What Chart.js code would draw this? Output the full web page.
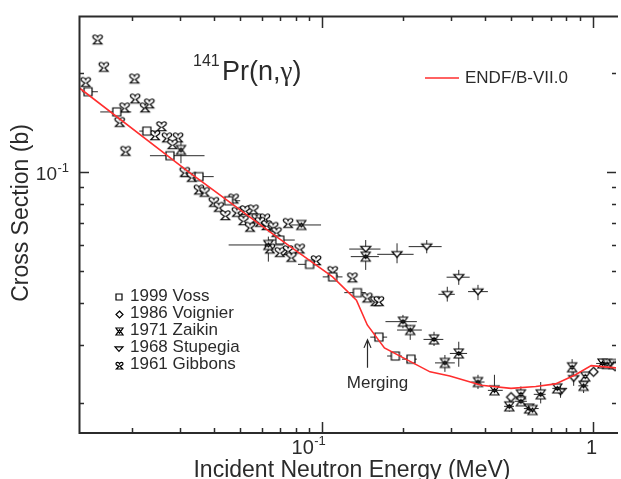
<!DOCTYPE html>
<html>
<head>
<meta charset="utf-8">
<title>141Pr(n,g) capture cross section</title>
<script src="https://cdn.jsdelivr.net/npm/chart.js@4.4.1/dist/chart.umd.min.js"></script>
<style>
  body { margin: 0; background: #ffffff; }
  canvas { display: block; }
</style>
</head>
<body>
<canvas id="xsChart" width="621" height="479"></canvas>
<script>
//axis ranges: energy in MeV, cross section in barn
var energyRange = [0.01269, 1.221];
var sigmaRange = [0.01619, 0.2968];
var xMajorTicks = [0.1, 1];
var xMinorTicks = [0.02, 0.03, 0.04, 0.05, 0.06, 0.07, 0.08, 0.09, 0.2, 0.3, 0.4, 0.5, 0.6, 0.7, 0.8, 0.9];
var yMajorTicks = [0.1];
var yMinorTicks = [0.02, 0.03, 0.04, 0.05, 0.06, 0.07, 0.08, 0.09, 0.2];

//ENDF/B-VII.0 evaluation
var endfEnergy = [0.0127, 0.0315, 0.0690, 0.0817, 0.1097, 0.1343, 0.1473, 0.1704, 0.2511, 0.2972, 0.3882, 0.500, 0.617, 0.730, 0.865, 0.989, 1.221];
var endfSigma = [0.180, 0.1014, 0.0631, 0.0572, 0.0481, 0.0409, 0.0344, 0.0293, 0.0248, 0.0241, 0.0226, 0.0221, 0.0224, 0.0228, 0.0243, 0.0259, 0.0255];

//1999 Voss
var vossEnergy = [0.0137, 0.0175, 0.0226, 0.0275, 0.0352, 0.0453, 0.0700, 0.0902, 0.1097, 0.1354, 0.1626, 0.187, 0.2135];
var vossSigma = [0.175, 0.152, 0.133, 0.112, 0.0968, 0.0818, 0.0622, 0.0525, 0.0481, 0.0431, 0.0316, 0.0277, 0.0271];
var vossELow = [0.0130, 0.0152, 0.0212, 0.0232, 0.0302, 0.0434, 0.0635, 0.0817, 0.1008, 0.1211, 0.1511, 0.1744, 0.1979];
var vossEHigh = [0.0149, 0.0198, 0.0251, 0.0369, 0.0399, 0.0500, 0.0795, 0.0951, 0.1193, 0.1453, 0.1744, 0.1979, 0.2245];

//1986 Voignier
var voignierEnergy = [0.500, 1.0085, 1.211];
var voignierSigma = [0.0208, 0.0248, 0.0258];

//1971 Zaikin
var zaikinEnergy = [0.0302, 0.0840, 0.0635, 0.1453, 0.1995, 0.2122, 0.2598, 0.2850, 0.3206, 0.3776, 0.4343, 0.4928, 0.5438, 0.5438, 0.5833, 0.6004, 0.6436, 0.7409, 0.8407, 0.927, 0.940, 1.088, 1.132, 1.194];
var zaikinSigma = [0.1166, 0.0691, 0.0601, 0.0554, 0.0352, 0.0332, 0.0311, 0.0264, 0.0282, 0.0231, 0.0218, 0.0195, 0.0212, 0.0202, 0.0192, 0.0190, 0.0212, 0.0221, 0.0256, 0.0225, 0.0240, 0.0263, 0.0262, 0.0262];
var zaikinELow = [null, 0.0772, 0.0453, 0.1280, 0.1719, 0.1897, 0.2376, 0.2620, 0.2972, 0.3567, 0.4108, 0.4713, null, 0.5169, 0.5578, null, 0.6067, 0.7104, null, 0.8866, null, 1.0315, null, null];
var zaikinEHigh = [null, 0.0994, 0.0720, 0.1626, 0.2245, 0.2342, 0.2812, 0.3101, 0.3441, 0.3992, 0.4661, 0.5126, null, 0.5722, 0.6326, null, 0.6714, 0.806, null, 0.9645, null, 1.151, null, null];
var zaikinSLow = [0.1063, null, 0.0535, 0.0505, 0.0336, 0.0310, 0.0297, 0.0248, 0.0257, 0.0220, 0.0211, 0.0188, 0.0197, null, null, null, 0.0199, null, 0.0240, 0.0214, null, null, null, null];
var zaikinSHigh = [0.1235, null, 0.0637, 0.0567, 0.0369, 0.0344, 0.0328, 0.0279, 0.0306, 0.0243, 0.0243, 0.0204, 0.0224, null, null, null, 0.0231, null, 0.0271, 0.0234, null, null, null, null];

//1968 Stupegia
var stupegiaEnergy = [0.1453, 0.1897, 0.2442, 0.3206, 0.2908, 0.3776, 0.7619, 0.852];
var stupegiaSigma = [0.0584, 0.0563, 0.0594, 0.0480, 0.0426, 0.0434, 0.0216, 0.0237];
var stupegiaELow = [0.1263, 0.1603, 0.2094, 0.2891, 0.2696, 0.3470, null, null];
var stupegiaEHigh = [0.1648, 0.2184, 0.2772, 0.3518, 0.3101, 0.4108, null, null];
var stupegiaSLow = [0.0549, 0.0529, 0.0567, 0.0455, 0.0405, 0.0409, 0.0207, 0.0225];
var stupegiaSHigh = [0.0622, 0.0608, 0.0622, 0.0505, 0.0449, 0.0455, 0.0226, 0.0251];

//1961 Gibbons
var gibbonsEnergy = [0.01486, 0.01567, 0.01343, 0.02034, 0.02046, 0.0187, 0.02227, 0.02308, 0.01793, 0.01886, 0.0256, 0.02422, 0.0268, 0.02947, 0.02809, 0.03119, 0.03309, 0.03518, 0.0369, 0.03992, 0.04164, 0.04406, 0.04725, 0.04857, 0.05215, 0.05591, 0.0514, 0.05438, 0.05749, 0.0617, 0.05916, 0.06255, 0.06618, 0.06805, 0.07509, 0.06436, 0.0700, 0.07509, 0.07721, 0.08286, 0.0953, 0.1097, 0.1298, 0.1473, 0.158, 0.1626];
var gibbonsSigma = [0.2524, 0.2085, 0.1877, 0.1922, 0.1672, 0.1571, 0.1571, 0.1615, 0.142, 0.116, 0.1378, 0.1294, 0.1274, 0.1274, 0.1216, 0.1002, 0.0968, 0.0886, 0.0872, 0.0813, 0.0785, 0.0741, 0.0832, 0.0758, 0.0767, 0.0771, 0.0715, 0.0683, 0.0724, 0.0724, 0.0707, 0.0691, 0.0683, 0.0659, 0.0702, 0.0587, 0.0573, 0.058, 0.0554, 0.0587, 0.0541, 0.0502, 0.048, 0.0417, 0.0407, 0.0407];

//where the arrow points to
var mergeEnergy = 0.1473;
var mergeSigma = 0.0310;

var SANS = '"Liberation Sans", Arial, sans-serif';
var SERIF = '"Liberation Serif", "Times New Roman", serif';
var INK = '#2b2b2b';

//turn two lists into chart points
function toPoints(energy, sigma){
    return energy.map(function(e, i){
        return {x: e, y: sigma[i]};
    });
}

//draw an open marker on a small canvas so it can be used as pointStyle
function makeMarker(shape, size){
    var pad = 3;
    var c = document.createElement('canvas');
    c.width = c.height = Math.ceil(size) + 2 * pad;
    var g = c.getContext('2d');
    var h = size / 2;
    g.translate(c.width / 2, c.height / 2);
    g.lineWidth = 1.2;
    g.strokeStyle = '#000000';
    g.fillStyle = '#ffffff';
    g.beginPath();
    if(shape === 'square'){
        g.rect(-h, -h, size, size);
    }
    else if(shape === 'diamond'){
        g.moveTo(0, -h); g.lineTo(h, 0); g.lineTo(0, h); g.lineTo(-h, 0); g.closePath();
    }
    else if(shape === 'triangleDown'){
        g.moveTo(-h, -0.55 * h); g.lineTo(h, -0.55 * h); g.lineTo(0, 0.6 * h); g.closePath();
    }
    else if(shape === 'hourglass'){
        g.moveTo(-h, -h); g.lineTo(h, -h); g.lineTo(0, 0.45 * h); g.closePath();
        g.moveTo(-h, h); g.lineTo(h, h); g.lineTo(0, -0.45 * h); g.closePath();
    }
    else if(shape === 'heart'){
        g.moveTo(0, -0.45 * h);
        g.bezierCurveTo(0.2 * h, -1.05 * h, h, -1.05 * h, h, -0.45 * h);
        g.bezierCurveTo(h, -0.1 * h, 0.35 * h, 0.05 * h, 0.2 * h, 0.25 * h);
        g.lineTo(0.9 * h, h);
        g.lineTo(-0.9 * h, h);
        g.lineTo(-0.2 * h, 0.25 * h);
        g.bezierCurveTo(-0.35 * h, 0.05 * h, -h, -0.1 * h, -h, -0.45 * h);
        g.bezierCurveTo(-h, -1.05 * h, -0.2 * h, -1.05 * h, 0, -0.45 * h);
        g.closePath();
    }
    g.fill();
    g.stroke();
    return c;
}

var markers = {
    voss: makeMarker('square', 8),
    voignier: makeMarker('diamond', 9),
    zaikin: makeMarker('hourglass', 9),
    stupegia: makeMarker('triangleDown', 10),
    gibbons: makeMarker('heart', 9.5)
};
var legendMarkers = {
    voss: makeMarker('square', 6),
    voignier: makeMarker('diamond', 7),
    zaikin: makeMarker('hourglass', 7),
    stupegia: makeMarker('triangleDown', 8),
    gibbons: makeMarker('heart', 7)
};

function measurement(label, energy, sigma, marker, errors){
    return {
        label: label,
        data: toPoints(energy, sigma),
        pointStyle: marker,
        pointRadius: 4,
        showLine: false,
        errors: errors
    };
}

//horizontal and vertical error bars, drawn under the markers
var errorBars = {
    id: 'errorBars',
    beforeDatasetsDraw: function(chart){
        var ctx = chart.ctx;
        var xs = chart.scales.x, ys = chart.scales.y;
        var area = chart.chartArea;
        ctx.save();
        ctx.beginPath();
        ctx.rect(area.left, area.top, area.right - area.left, area.bottom - area.top);
        ctx.clip();
        ctx.strokeStyle = '#2a2a2a';
        ctx.lineWidth = 1;
        chart.data.datasets.forEach(function(ds){
            var e = ds.errors;
            if(!e) return;
            ds.data.forEach(function(p, i){
                var px = xs.getPixelForValue(p.x);
                var py = ys.getPixelForValue(p.y);
                ctx.beginPath();
                if(e.eLow && e.eLow[i] != null){
                    ctx.moveTo(xs.getPixelForValue(e.eLow[i]), py);
                    ctx.lineTo(xs.getPixelForValue(e.eHigh[i]), py);
                }
                if(e.sLow && e.sLow[i] != null){
                    ctx.moveTo(px, ys.getPixelForValue(e.sLow[i]));
                    ctx.lineTo(px, ys.getPixelForValue(e.sHigh[i]));
                }
                ctx.stroke();
            });
        });
        ctx.restore();
    }
};

//base with a superscript exponent, e.g. 10^-1
function drawPower(ctx, left, baseline, base, exp, baseSize, expSize, rise){
    ctx.font = baseSize + 'px ' + SANS;
    ctx.textAlign = 'left';
    ctx.textBaseline = 'alphabetic';
    ctx.fillText(base, left, baseline);
    var w = ctx.measureText(base).width;
    ctx.font = expSize + 'px ' + SANS;
    ctx.fillText(exp, left + w + 0.5, baseline - rise);
    return w + ctx.measureText(exp).width + 0.5;
}

//frame with inward ticks, tick labels, titles, legends and the merging arrow
var decorations = {
    id: 'decorations',
    afterDraw: function(chart){
        var ctx = chart.ctx;
        var xs = chart.scales.x, ys = chart.scales.y;
        var a = chart.chartArea;
        ctx.save();
        ctx.strokeStyle = INK;
        ctx.fillStyle = INK;

        //frame (right side falls outside the canvas)
        ctx.lineWidth = 2;
        ctx.beginPath();
        ctx.moveTo(a.right + 2, a.top + 0.5);
        ctx.lineTo(a.left + 0.5, a.top + 0.5);
        ctx.lineTo(a.left + 0.5, a.bottom);
        ctx.lineTo(a.right + 2, a.bottom);
        ctx.stroke();

        //ticks
        ctx.lineWidth = 1.5;
        ctx.beginPath();
        xMajorTicks.concat(xMinorTicks).forEach(function(v){
            var major = xMajorTicks.indexOf(v) >= 0;
            var px = Math.round(xs.getPixelForValue(v)) + 0.5;
            ctx.moveTo(px, a.bottom); ctx.lineTo(px, a.bottom - (major ? 11 : 5));
            ctx.moveTo(px, a.top); ctx.lineTo(px, a.top + (major ? 12 : 5));
        });
        yMajorTicks.concat(yMinorTicks).forEach(function(v){
            var major = yMajorTicks.indexOf(v) >= 0;
            var py = Math.round(ys.getPixelForValue(v)) + 0.5;
            ctx.moveTo(a.left, py); ctx.lineTo(a.left + (major ? 10 : 5), py);
            ctx.moveTo(a.right, py); ctx.lineTo(a.right - (major ? 9 : 4), py);
        });
        ctx.stroke();

        //tick labels
        var x01 = xs.getPixelForValue(0.1);
        ctx.font = '20px ' + SANS;
        drawPower(ctx, x01 - 8 - ctx.measureText('10').width, a.bottom + 21, '10', '-1', 20, 13, 9);
        ctx.font = '20px ' + SANS;
        ctx.textAlign = 'center';
        ctx.fillText('1', xs.getPixelForValue(1) - 1, a.bottom + 21);
        var y01 = ys.getPixelForValue(0.1);
        ctx.font = '19px ' + SANS;
        drawPower(ctx, 57 - ctx.measureText('10').width, y01 + 8, '10', '-1', 19, 13, 8);

        //axis titles
        ctx.font = '23px ' + SANS;
        ctx.textAlign = 'center';
        ctx.textBaseline = 'alphabetic';
        ctx.fillText('Incident Neutron Energy (MeV)', 352, 477);
        ctx.save();
        ctx.translate(28, 213);
        ctx.rotate(-Math.PI / 2);
        ctx.fillText('Cross Section (b)', 0, 0);
        ctx.restore();

        //reaction label
        ctx.textAlign = 'left';
        ctx.font = '16px ' + SANS;
        ctx.fillText('141', 193, 66);
        ctx.font = '27px ' + SANS;
        var tx = 222;
        ctx.fillText('Pr(n,', tx, 80);
        tx += ctx.measureText('Pr(n,').width;
        ctx.font = '27px ' + SERIF;
        ctx.fillText('\u03b3', tx, 80);
        tx += ctx.measureText('\u03b3').width;
        ctx.font = '27px ' + SANS;
        ctx.fillText(')', tx, 80);

        //evaluation legend
        ctx.strokeStyle = '#ff2e2e';
        ctx.lineWidth = 1.6;
        ctx.beginPath();
        ctx.moveTo(425, 78); ctx.lineTo(459, 78);
        ctx.stroke();
        ctx.font = '17px ' + SANS;
        ctx.textBaseline = 'middle';
        ctx.fillText('ENDF/B-VII.0', 465, 78);

        //measurement legend
        var rows = [
            [legendMarkers.voss, '1999 Voss'],
            [legendMarkers.voignier, '1986 Voignier'],
            [legendMarkers.zaikin, '1971 Zaikin'],
            [legendMarkers.stupegia, '1968 Stupegia'],
            [legendMarkers.gibbons, '1961 Gibbons']
        ];
        rows.forEach(function(row, i){
            var cy = 296 + i * 17.2;
            var m = row[0];
            ctx.drawImage(m, Math.round(119 - m.width / 2), Math.round(cy + 1 - m.height / 2));
            ctx.fillText(row[1], 130, cy);
        });

        //merging arrow and its label
        var mx = Math.round(xs.getPixelForValue(mergeEnergy)) + 0.5;
        var my = ys.getPixelForValue(mergeSigma);
        ctx.strokeStyle = INK;
        ctx.lineWidth = 1.2;
        ctx.beginPath();
        ctx.moveTo(mx, my + 28); ctx.lineTo(mx, my);
        ctx.moveTo(mx - 3.5, my + 8); ctx.lineTo(mx, my); ctx.lineTo(mx + 3.5, my + 8);
        ctx.stroke();
        ctx.textAlign = 'center';
        ctx.textBaseline = 'alphabetic';
        ctx.font = '17px ' + SANS;
        ctx.fillText('Merging', mx + 10, my + 48);

        ctx.restore();
    }
};

var chart = new Chart(document.getElementById('xsChart'), {
    type: 'scatter',
    data: {
        datasets: [
            {
                label: 'ENDF/B-VII.0',
                data: toPoints(endfEnergy, endfSigma),
                showLine: true,
                borderColor: '#ff2e2e',
                borderWidth: 1.6,
                pointRadius: 0,
                tension: 0
            },
            measurement('1999 Voss', vossEnergy, vossSigma, markers.voss,
                {eLow: vossELow, eHigh: vossEHigh}),
            measurement('1986 Voignier', voignierEnergy, voignierSigma, markers.voignier, null),
            measurement('1971 Zaikin', zaikinEnergy, zaikinSigma, markers.zaikin,
                {eLow: zaikinELow, eHigh: zaikinEHigh, sLow: zaikinSLow, sHigh: zaikinSHigh}),
            measurement('1968 Stupegia', stupegiaEnergy, stupegiaSigma, markers.stupegia,
                {eLow: stupegiaELow, eHigh: stupegiaEHigh, sLow: stupegiaSLow, sHigh: stupegiaSHigh}),
            measurement('1961 Gibbons', gibbonsEnergy, gibbonsSigma, markers.gibbons, null)
        ]
    },
    options: {
        responsive: false,
        animation: false,
        events: [],
        layout: {
            padding: {left: 79, top: 16, right: 0, bottom: 46}
        },
        plugins: {
            legend: {display: false},
            tooltip: {enabled: false}
        },
        scales: {
            x: {type: 'logarithmic', min: energyRange[0], max: energyRange[1], display: false},
            y: {type: 'logarithmic', min: sigmaRange[0], max: sigmaRange[1], display: false}
        }
    },
    plugins: [errorBars, decorations]
});
</script>
</body>
</html>
